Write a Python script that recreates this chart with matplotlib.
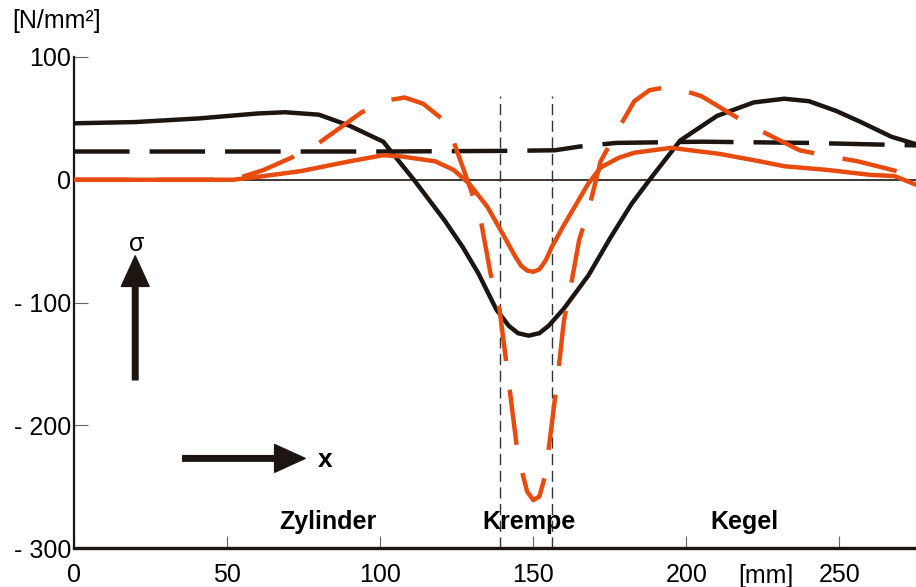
import numpy as np
import matplotlib.pyplot as plt

plt.rcParams['font.family'] = ['Liberation Sans', 'DejaVu Sans']

# Spannungsverläufe entlang x [mm], sigma [N/mm²]
black_solid_x = [0, 20, 41, 60, 69, 80, 90, 101, 111, 121, 127, 132, 138, 142, 145, 148.5, 152, 155, 160, 168,
                 175, 182, 188, 198, 210, 222, 232, 240, 249, 257, 267, 275]
black_solid_y = [46, 47, 50, 54, 55, 53, 44, 31, 0, -33, -55, -76, -106, -119, -125, -127, -125, -119, -105, -78,
                 -48, -20, 0, 32, 52, 63, 66, 64, 56, 47, 35, 29]

black_dash_x = [0, 50, 100, 140, 157, 165, 177, 205, 240, 275]
black_dash_y = [23, 23, 23, 23.5, 24, 27, 30, 31, 30, 28]

orange_solid_x = [0, 52, 62, 74, 90, 101, 107, 118, 124, 129, 135, 140, 144, 146, 148, 150, 152, 154, 156, 160,
                  164, 168, 172, 178, 183, 195, 211, 224, 232, 246, 260, 268, 275]
orange_solid_y = [0, 0, 3, 7, 15, 20, 19, 15, 8, -3, -22, -44, -62, -70, -74, -75, -73, -66, -55, -37,
                  -20, -3, 10, 18, 22, 26, 21, 15, 11, 8, 4, 3, -4]

orange_dash_x = [0, 52, 62, 71, 80, 94, 103, 108, 114, 120, 124, 127, 130, 133, 136, 139, 142, 145, 148, 150,
                 152, 154, 156, 158, 160, 162, 165, 168, 172, 177, 183, 188, 195, 205, 213, 221, 229, 237,
                 247, 256, 264, 275]
orange_dash_y = [0, 0, 8, 18, 30, 55, 65, 67, 62, 50, 31, 10, -11, -35, -76, -106, -165, -225, -254, -261,
                 -258, -240, -200, -160, -115, -90, -49, -25, 15, 38, 64, 73, 76, 68, 56, 44, 34, 24,
                 19, 15, 10, 3]

region_x = [139, 156]
yticks = [100, 0, -100, -200, -300]
ylabels = ['100', '0', '- 100', '- 200', '- 300']
xticks = [0, 50, 100, 150, 200, 250]

black = '#1c1510'
orange = '#e84b0e'

fig = plt.figure(figsize=(9.16, 5.87), dpi=100)
ax = fig.add_axes([74 / 916, 39 / 587, 1 - 74 / 916, 491 / 587])

ax.axhline(0, color=black, lw=1.2, zorder=1)
ax.vlines(region_x, -300, 68, colors='#333333', lw=1.0, linestyles=(0, (8, 4)), zorder=1)

ax.plot(black_dash_x, black_dash_y, color=black, lw=3.2, dashes=(12.5, 4.5), zorder=2)
ax.plot(black_solid_x, black_solid_y, color=black, lw=3.2, zorder=3)
ax.plot(orange_solid_x, orange_solid_y, color=orange, lw=3.2, zorder=4)
ax.plot(orange_dash_x, orange_dash_y, color=orange, lw=3.2, dashes=(12.5, 6.5), zorder=5)

ax.set_xlim(0, 275)
ax.set_ylim(-300, 100)

for s in ['top', 'right']:
    ax.spines[s].set_visible(False)
ax.spines['left'].set_linewidth(1.6)
ax.spines['left'].set_color(black)
ax.spines['bottom'].set_linewidth(2.4)
ax.spines['bottom'].set_color(black)

ax.set_yticks(yticks)
ax.set_yticklabels(ylabels)
ax.set_xticks(xticks)
ax.tick_params(axis='y', direction='in', length=10, width=0.8, color='#666666', pad=2, labelsize=18)
ax.tick_params(axis='x', direction='in', length=9, width=0.8, color='#666666', pad=11, labelsize=18)

# Beschriftungen
fig.text(12 / 916, 1 - 21 / 587, '[N/mm²]', fontsize=18, va='center', ha='left')
ax.text(226, -0.058, '[mm]', transform=ax.get_xaxis_transform(), fontsize=18, ha='center', va='center')

ax.text(83, -279, 'Zylinder', fontsize=18, fontweight='bold', ha='center', va='center')
ax.text(148.5, -279, 'Krempe', fontsize=18, fontweight='bold', ha='center', va='center')
ax.text(219, -279, 'Kegel', fontsize=18, fontweight='bold', ha='center', va='center')

ax.annotate('', xy=(20, -62), xytext=(20, -163),
            arrowprops=dict(facecolor=black, edgecolor=black, width=4, headwidth=20, headlength=22, shrink=0))
ax.text(20.5, -52, 'σ', fontsize=18, ha='center', va='center')
ax.annotate('', xy=(75.5, -227), xytext=(35.5, -227),
            arrowprops=dict(facecolor=black, edgecolor=black, width=4, headwidth=20, headlength=22, shrink=0))
ax.text(79.5, -228, 'x', fontsize=19, fontweight='bold', ha='left', va='center')

fig.savefig('out.png', dpi=100)
